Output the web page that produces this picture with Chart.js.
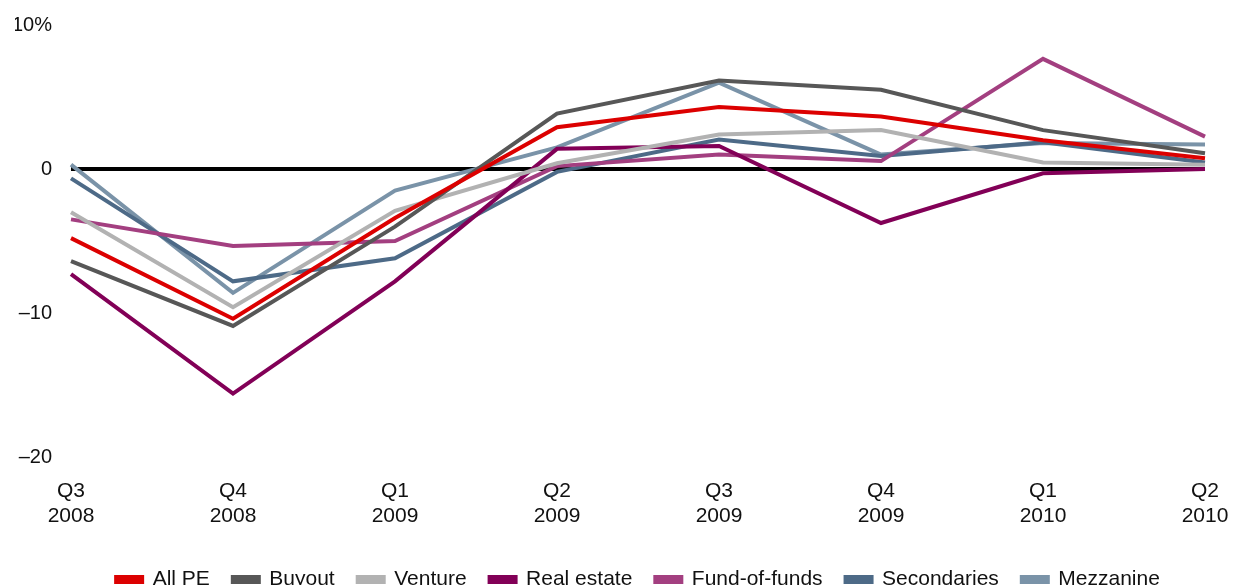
<!DOCTYPE html>
<html>
<head>
<meta charset="utf-8">
<script src="https://cdn.jsdelivr.net/npm/chart.js@4"></script>
<style>
  html, body { margin: 0; padding: 0; background: #fff; overflow: hidden; }
  #wrap { width: 1236px; height: 585px; }
</style>
</head>
<body>
<div id="wrap"><canvas id="returnsChart"></canvas></div>
<script>
const quarters = ["Q3", "Q4", "Q1", "Q2", "Q3", "Q4", "Q1", "Q2"];
const years = ["2008", "2008", "2009", "2009", "2009", "2009", "2010", "2010"];

const yTickValues = [10, 0, -10, -20];
const yTickLabels = ["10%", "0", "–10", "–20"];

const allPE       = [-4.8, -10.4, -3.4, 2.9, 4.3, 3.65, 2.0, 0.75];
const buyout      = [-6.4, -10.9, -4.0, 3.85, 6.15, 5.5, 2.7, 1.1];
const venture     = [-3.0, -9.6, -2.9, 0.4, 2.4, 2.7, 0.45, 0.3];
const realEstate  = [-7.3, -15.6, -7.8, 1.4, 1.6, -3.75, -0.3, 0.0];
const fundOfFunds = [-3.5, -5.35, -5.0, 0.2, 1.0, 0.55, 7.65, 2.25];
const secondaries = [-0.65, -7.8, -6.2, -0.2, 2.05, 0.9, 1.85, 0.45];
const mezzanine   = [0.3, -8.6, -1.5, 1.5, 6.0, 1.0, 1.8, 1.7];

const FONT = "'Liberation Sans', Arial, sans-serif";
const ctx = document.getElementById("returnsChart").getContext("2d");

function series(label, data, color) {
  return {
    label, data,
    borderColor: color, backgroundColor: color,
    borderWidth: 4, pointRadius: 0, tension: 0,
    borderJoinStyle: "miter", fill: false,
  };
}

// legend in the original sits a bit right of the plot centre
const legendShift = {
  id: "legendShift",
  afterLayout(chart) {
    if (!chart.legend) return;
    chart.legend.left += 28;
    chart.legend.right += 28;
  },
};

new Chart(ctx, {
  type: "line",
  data: {
    labels: quarters.map((q, i) => [q, years[i]]),
    datasets: [
      series("All PE", allPE, "#dc0000"),
      series("Buyout", buyout, "#575757"),
      series("Venture", venture, "#b2b2b2"),
      series("Real estate", realEstate, "#820057"),
      series("Fund-of-funds", fundOfFunds, "#a33f80"),
      series("Secondaries", secondaries, "#4d6a87"),
      series("Mezzanine", mezzanine, "#7a93a8"),
    ],
  },
  plugins: [legendShift],
  options: {
    responsive: true,
    maintainAspectRatio: false,
    animation: false,
    layout: { padding: { left: 15, right: 31, top: 25, bottom: 0 } },
    plugins: {
      tooltip: { enabled: false },
      legend: {
        position: "bottom",
        maxHeight: 39,
        labels: {
          color: "#111",
          font: { family: FONT, size: 21 },
          boxWidth: 26,
          boxHeight: 5,
          padding: 23,
        },
      },
    },
    scales: {
      x: {
        offset: false,
        grid: { display: false },
        border: { display: false },
        ticks: {
          color: "#111",
          padding: 14,
          maxRotation: 0,
          autoSkip: false,
          font: { family: FONT, size: 21, lineHeight: 1.17 },
        },
        afterFit: (scale) => {
          scale.height = 89;
          scale.paddingLeft = 0;
          scale.paddingRight = 0;
        },
      },
      y: {
        min: -20,
        max: 10,
        afterBuildTicks: (scale) => { scale.ticks = yTickValues.map((v) => ({ value: v })); },
        afterFit: (scale) => {
          scale.width = 56;
          scale.paddingTop = 0;
          scale.paddingBottom = 0;
        },
        grid: {
          drawTicks: false,
          color: (c) => (c.tick && c.tick.value === 0 ? "#000" : "rgba(0,0,0,0)"),
          lineWidth: (c) => (c.tick && c.tick.value === 0 ? 4 : 0),
        },
        border: { display: false },
        ticks: {
          color: "#111",
          padding: 19,
          font: { family: FONT, size: 20 },
          callback: (v) => yTickLabels[yTickValues.indexOf(v)],
        },
      },
    },
  },
});
</script>
</body>
</html>
